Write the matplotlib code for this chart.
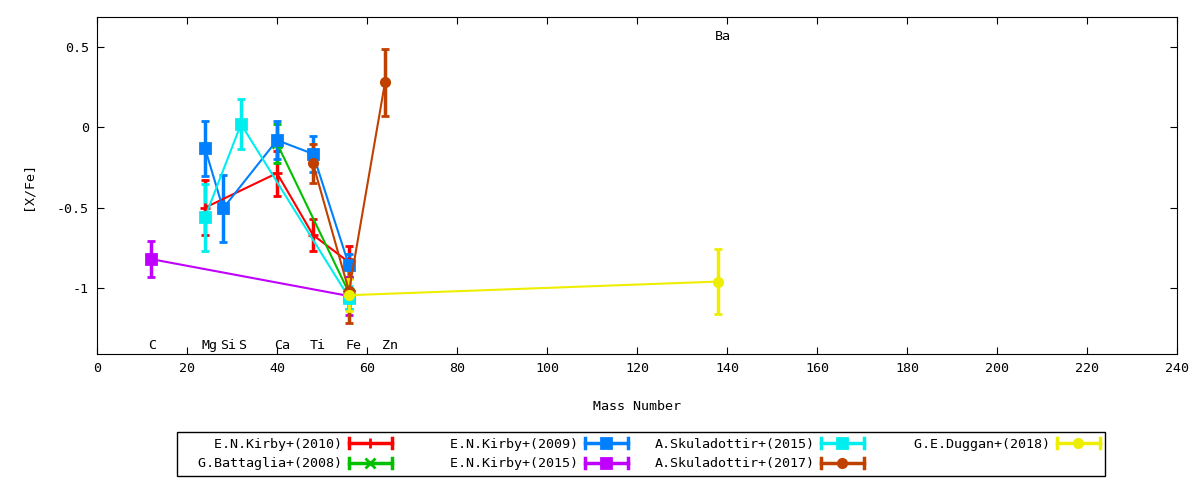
#gnuplot风格的 [X/Fe] - Mass Number 误差棒折线图
import matplotlib
matplotlib.use('Agg')
import matplotlib.pyplot as plt
from matplotlib.lines import Line2D
from matplotlib.legend_handler import HandlerBase
from matplotlib.ticker import FuncFormatter

plt.rcParams['font.family'] = ['DejaVu Sans Mono']
plt.rcParams['axes.unicode_minus'] = False
FS = 9.6

#元素与质量数
elements = ['C', 'Mg', 'Si', 'S', 'Ca', 'Ti', 'Fe', 'Zn', 'Ba']
masses = [12, 24, 28, 32, 40, 48, 56, 64, 138]

#各文献数据
kirby10_x = [24, 40, 48, 56]
kirby10_y = [-0.50, -0.285, -0.67, -0.84]
kirby10_e = [0.17, 0.14, 0.10, 0.10]

battaglia08_x = [40, 56]
battaglia08_y = [-0.10, -1.03]
battaglia08_e = [0.12, 0.10]

kirby09_x = [24, 28, 40, 48, 56]
kirby09_y = [-0.13, -0.505, -0.08, -0.165, -0.86]
kirby09_e = [0.17, 0.21, 0.12, 0.11, 0.07]

kirby15_x = [12, 56]
kirby15_y = [-0.82, -1.05]
kirby15_e = [0.11, 0.12]

skul15_x = [24, 32, 56]
skul15_y = [-0.56, 0.02, -1.06]
skul15_e = [0.21, 0.155, 0.07]

skul17_x = [48, 56, 64]
skul17_y = [-0.225, -1.02, 0.28]
skul17_e = [0.12, 0.20, 0.21]

duggan18_x = [56, 138]
duggan18_y = [-1.045, -0.96]
duggan18_e = [0.10, 0.20]

series = [
    ('E.N.Kirby+(2010)', kirby10_x, kirby10_y, kirby10_e, '#ff0000', '+'),
    ('G.Battaglia+(2008)', battaglia08_x, battaglia08_y, battaglia08_e, '#00c000', 'x'),
    ('E.N.Kirby+(2009)', kirby09_x, kirby09_y, kirby09_e, '#0080ff', 's'),
    ('E.N.Kirby+(2015)', kirby15_x, kirby15_y, kirby15_e, '#c000ff', 's'),
    ('A.Skuladottir+(2015)', skul15_x, skul15_y, skul15_e, '#00eeee', 's'),
    ('A.Skuladottir+(2017)', skul17_x, skul17_y, skul17_e, '#c04000', 'o'),
    ('G.E.Duggan+(2018)', duggan18_x, duggan18_y, duggan18_e, '#eeee00', 'o'),
]


class ErrKey(HandlerBase):
    #图例: 横线 + 两端竖帽 + 中间点
    def create_artists(self, legend, orig, xd, yd, w, h, fs, trans):
        c = orig.get_color()
        y = h / 2 - yd
        x0, x1 = -xd, w - xd
        arts = [Line2D([x0, x1], [y, y], color=c, lw=2.5),
                Line2D([x0, x0], [y - 3.5, y + 3.5], color=c, lw=2.5),
                Line2D([x1, x1], [y - 3.5, y + 3.5], color=c, lw=2.5),
                Line2D([(x0 + x1) / 2], [y], color=c, marker=orig.get_marker(),
                       ms=orig.get_markersize(), mew=2, lw=0)]
        for a in arts:
            a.set_transform(trans)
        return arts


fig = plt.figure(figsize=(12, 4.8), dpi=100)
ax = fig.add_axes([97 / 1200, 1 - 354 / 480, 1080 / 1200, 337 / 480])

handles = []
for name, x, y, e, c, m in series:
    ms = 7 if m in ('s', '+', 'x') else 6
    ax.errorbar(x, y, yerr=e, color=c, marker=m, ms=ms, mew=2, lw=1.5,
                elinewidth=2.5, capsize=3.2, capthick=2.5)
    handles.append(Line2D([], [], color=c, marker=m, ms=ms,
                          label=name.rjust(20)))

#元素标签
for el, ms_ in zip(elements, masses):
    yy = 0.567 if el == 'Ba' else -1.358
    ax.text(ms_ - 0.7, yy, el, ha='left', va='center', fontsize=FS)

ax.set_xlim(0, 240)
ax.set_ylim(-1.411, 0.687)
ax.set_xticks(range(0, 241, 20))
ax.set_yticks([0.5, 0, -0.5, -1])
ax.yaxis.set_major_formatter(FuncFormatter(lambda v, p: '%g' % v))
ax.tick_params(direction='in', top=True, right=True, length=5,
               labelsize=FS, pad=6)
ax.set_xlabel('Mass Number', fontsize=FS, labelpad=18)
ax.set_ylabel('[X/Fe]', fontsize=FS, labelpad=16)

leg = fig.legend(handles=handles, ncol=4, loc='center',
                 bbox_to_anchor=(641 / 1200, 1 - 454 / 480),
                 markerfirst=False, fontsize=FS, handlelength=3.2,
                 handletextpad=0.5, columnspacing=2.0, labelspacing=0.5,
                 borderpad=0.4, fancybox=False, edgecolor='black',
                 framealpha=1, handler_map={Line2D: ErrKey()})
leg.get_frame().set_linewidth(1)

fig.savefig('out.png', dpi=100)
